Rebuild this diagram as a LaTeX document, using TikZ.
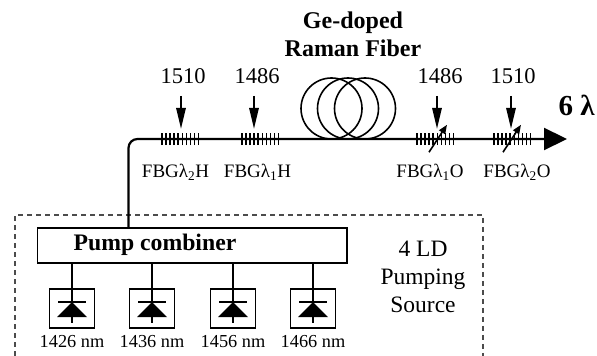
\documentclass[tikz,border=0pt]{standalone}
\usepackage{fontspec}
\setmainfont{Liberation Serif}
\usetikzlibrary{
  arrows.meta,
  positioning,
  calc
}
\tikzset{
  fiber/.style     = {line width=2.2pt},
  pumparrow/.style = {-{Triangle[length=21pt,width=9.5pt]}, line width=1.6pt},
  tunearrow/.style = {-{Triangle[length=9pt,width=7pt]}, line width=1.6pt},
  grating/.style   = {minimum width=37pt, minimum height=12pt, inner sep=0pt},
  wavelabel/.style = {inner sep=0pt, font=\fontsize{22.5}{27}\selectfont},
  fbglabel/.style  = {inner sep=0pt, font=\fontsize{19}{22}\selectfont},
  ldlabel/.style   = {inner sep=0pt, font=\fontsize{18.3}{22}\selectfont},
  ldbox/.style     = {draw, line width=1.6pt, minimum width=45pt, minimum height=39pt, inner sep=0pt},
  ldline/.style    = {line width=2.2pt},
}

\begin{document}
\begin{tikzpicture}[x=1pt, y=1pt]
    \useasboundingbox (0,0) rectangle (597,356);

    % Pumping source frame (runs off the bottom)
    \draw[line width=1.3pt, black!70, dash pattern=on 5pt off 4pt]
        (15,0) -- (15,141) -- (483,141) -- (483,0);

    % Combiner
    \node[draw, line width=1.8pt, minimum width=309.5pt, minimum height=35pt, inner sep=0pt]
        (combiner) at (192.25,110.5) {};
    \node[inner sep=0pt, font=\fontsize{23.7}{28}\selectfont\bfseries] (combtext) at (155,111) {Pump combiner};
    \node[inner sep=0pt, align=center, font=\fontsize{23.5}{28}\selectfont] (source) at (423,79) {4 LD\\Pumping\\Source};

    % Laser diodes
    \foreach \i/\x/\w in {1/72/1426, 2/152/1436, 3/233/1456, 4/313/1466} {
        \node[ldbox] (ld\i) at (\x,47.5) {};
        \node[ldlabel] (nm\i) at (\x,14) {\w\ nm};
        \draw[ldline] (combiner.south -| ld\i) -- ([yshift=-35pt]ld\i.north);
        \draw[ldline] ([xshift=-14pt,yshift=-14pt]ld\i.north) -- ([xshift=14pt,yshift=-14pt]ld\i.north);
        \fill ([yshift=-14pt]ld\i.north) -- ([xshift=15pt,yshift=-29pt]ld\i.north)
            -- ([xshift=-15pt,yshift=-29pt]ld\i.north) -- cycle;
    }

    % Fiber line
    \coordinate (fiberin) at (128.5,128);
    \coordinate (fiberend) at (567,217);
    \draw[fiber, -{Triangle[length=23pt,width=22pt]}, rounded corners=9pt]
        (fiberin) -- (128.5,217) -- (fiberend);

    % Raman coil
    \foreach \i/\x in {1/331.5, 2/348, 3/365} {
        \node[draw, circle, line width=1.6pt, minimum size=61pt, inner sep=0pt] (coil\i) at (\x,247.5) {};
    }
    \node[inner sep=0pt, align=center, font=\fontsize{24}{28}\selectfont\bfseries] (ramantext) at (353,322) {Ge-doped\\Raman Fiber};
    \node[inner sep=0pt, font=\fontsize{29}{30}\selectfont\bfseries] (sixlambda) at (576.5,251) {6 λ};

    % Gratings with their pump arrows and labels
    \foreach \i/\x/\a/\w/\lx/\tx/\sub/\e in {1/180.5/0.5/1510/183/175.5/2/H, 2/260.5/-6.5/1486/257/257.5/1/H,
                                             3/435.5/1.5/1486/440/430/1/O, 4/512.5/-1.5/1510/513/517/2/O} {
        \node[grating] (fbg\i) at (\x,217) {};
        \foreach \k in {0,...,9} {
            \draw[line width=1.5pt] ($(fbg\i.south west)+(\k*4.1,0)$) -- ++(0,12);
        }
        \node[wavelabel] (wave\i) at (\lx,279.5) {\w};
        \node[fbglabel] (fbgtext\i) at (\tx,184) {FBGλ\textsubscript{\sub}\e};
        \draw[pumparrow] ([xshift=\a pt,yshift=37pt]fbg\i.north) -- ([xshift=\a pt,yshift=4pt]fbg\i.north);
    }

    % Tunable gratings
    \foreach \i/\d in {3/-6.5, 4/-9.5} {
        \draw[tunearrow] ([xshift=\d pt,yshift=-7pt]fbg\i.south) -- ([xshift=\d pt+18pt,yshift=8pt]fbg\i.north);
    }

\end{tikzpicture}
\end{document}
